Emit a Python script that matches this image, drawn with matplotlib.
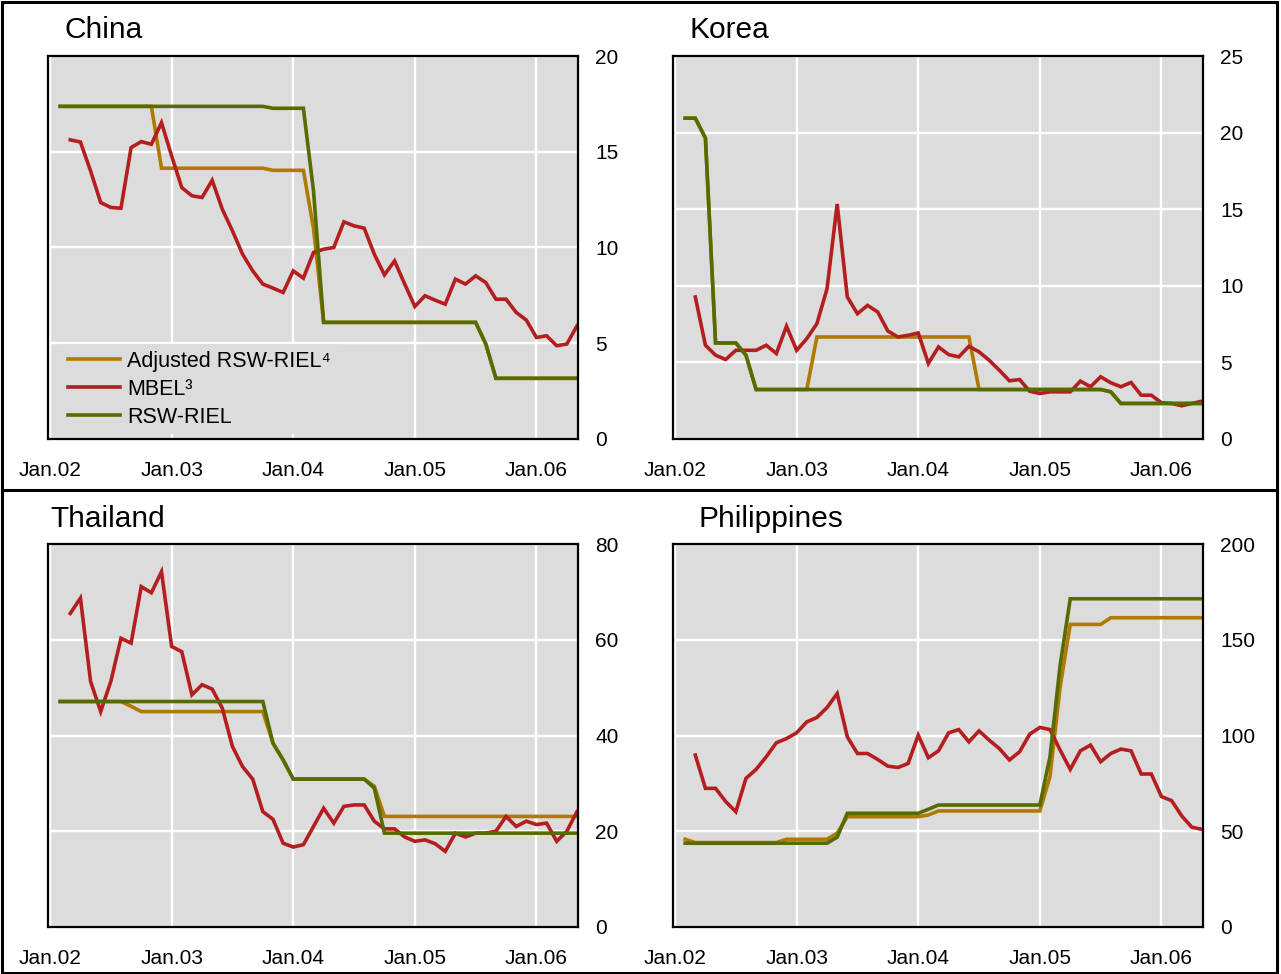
import numpy as np
import matplotlib
matplotlib.use("Agg")
import matplotlib.pyplot as plt
from matplotlib.patches import Rectangle
from matplotlib.lines import Line2D

plt.rcParams['font.family'] = ['Liberation Sans', 'DejaVu Sans']

# ---------------------------------------------------------------------------
# Data: monthly observations, month index 0 = Jan 2002
# Exchange-rate based series (RSW-RIEL, adjusted) start in Feb 2002,
# MBEL starts in Mar 2002.
# ---------------------------------------------------------------------------
rsw_start = 1
mbel_start = 2

tick_months = [0, 12, 24, 36, 48]
tick_labels = ["Jan.02", "Jan.03", "Jan.04", "Jan.05", "Jan.06"]

series_labels = ["Adjusted RSW-RIEL\u2074", "MBEL\u00b3", "RSW-RIEL"]

china_adj = [17.37, 17.37, 17.37, 17.37, 17.37, 17.37, 17.37, 17.37, 17.37, 17.37,
             14.14, 14.14, 14.14, 14.14, 14.14, 14.14, 14.14, 14.14, 14.14, 14.14, 14.14,
             14.03, 14.03, 14.03, 14.03, 11.0,
             6.09, 6.09, 6.09, 6.09, 6.09, 6.09, 6.09, 6.09, 6.09, 6.09, 6.09, 6.09,
             6.09, 6.09, 6.09, 6.09, 4.96,
             3.17, 3.17, 3.17, 3.17, 3.17, 3.17, 3.17, 3.17, 3.17]
china_mbel = [15.62, 15.51, 14.0, 12.35, 12.09, 12.05, 15.22, 15.53, 15.39, 16.52,
              14.78, 13.13, 12.70, 12.61, 13.51, 12.0, 10.87, 9.65, 8.78, 8.09,
              7.88, 7.65, 8.78, 8.40, 9.74, 9.91, 10.0, 11.34, 11.13, 11.01,
              9.65, 8.57, 9.30, 8.09, 6.92, 7.48, 7.25, 7.04, 8.35, 8.09,
              8.52, 8.17, 7.30, 7.30, 6.61, 6.21, 5.30, 5.39, 4.87, 4.96, 5.91]
china_rsw = [17.37, 17.37, 17.37, 17.37, 17.37, 17.37, 17.37, 17.37, 17.37, 17.37,
             17.37, 17.37, 17.37, 17.37, 17.37, 17.37, 17.37, 17.37, 17.37, 17.37, 17.37,
             17.27, 17.27, 17.27, 17.27, 12.96,
             6.09, 6.09, 6.09, 6.09, 6.09, 6.09, 6.09, 6.09, 6.09, 6.09, 6.09, 6.09,
             6.09, 6.09, 6.09, 6.09, 4.96,
             3.17, 3.17, 3.17, 3.17, 3.17, 3.17, 3.17, 3.17, 3.17]

korea_adj = [20.94, 20.94, 19.64, 6.27, 6.27, 6.27, 5.47, 3.23, 3.23, 3.23, 3.23, 3.23, 3.23,
             6.66, 6.66, 6.66, 6.66, 6.66, 6.66, 6.66, 6.66, 6.66, 6.66, 6.66, 6.66,
             6.66, 6.66, 6.66, 6.66,
             3.23, 3.23, 3.23, 3.23, 3.23, 3.23, 3.23, 3.23, 3.23, 3.23, 3.23, 3.23, 3.23,
             3.08, 2.32, 2.32, 2.32, 2.32, 2.32, 2.32, 2.32, 2.32, 2.32]
korea_mbel = [9.27, 6.12, 5.47, 5.19, 5.79, 5.79, 5.79, 6.12, 5.58, 7.36,
              5.79, 6.55, 7.53, 9.81, 15.34, 9.27, 8.18, 8.72, 8.29, 7.05,
              6.66, 6.77, 6.92, 4.93, 6.01, 5.51, 5.36, 6.05, 5.69, 5.14,
              4.49, 3.80, 3.88, 3.12, 2.97, 3.08, 3.08, 3.08, 3.78, 3.41,
              4.06, 3.67, 3.41, 3.69, 2.86, 2.86, 2.37, 2.32, 2.17, 2.32, 2.47]
korea_rsw = [20.94, 20.94, 19.64, 6.27, 6.27, 6.27, 5.47,
             3.23, 3.23, 3.23, 3.23, 3.23, 3.23, 3.23, 3.23, 3.23, 3.23, 3.23, 3.23,
             3.23, 3.23, 3.23, 3.23, 3.23, 3.23, 3.23, 3.23, 3.23, 3.23, 3.23, 3.23,
             3.23, 3.23, 3.23, 3.23, 3.23, 3.23, 3.23, 3.23, 3.23, 3.23, 3.23,
             3.08, 2.32, 2.32, 2.32, 2.32, 2.32, 2.32, 2.32, 2.32, 2.32]

thai_adj = [47.1, 47.1, 47.1, 47.1, 47.1, 47.1, 47.1, 46.1,
            45.0, 45.0, 45.0, 45.0, 45.0, 45.0, 45.0, 45.0, 45.0, 45.0, 45.0, 45.0, 45.0,
            38.4, 34.9, 30.9, 30.9, 30.9, 30.9, 30.9, 30.9, 30.9, 30.9, 29.4,
            23.1, 23.1, 23.1, 23.1, 23.1, 23.1, 23.1, 23.1, 23.1, 23.1,
            23.1, 23.1, 23.1, 23.1, 23.1, 23.1, 23.1, 23.1, 23.1, 23.1]
thai_mbel = [65.5, 68.7, 51.3, 45.0, 51.3, 60.3, 59.3, 71.1, 69.8, 74.2,
             58.6, 57.5, 48.5, 50.6, 49.7, 45.7, 37.7, 33.5, 30.9, 24.1,
             22.5, 17.5, 16.7, 17.2, 21.0, 24.8, 21.7, 25.2, 25.5, 25.5,
             22.1, 20.5, 20.5, 18.8, 17.9, 18.2, 17.4, 15.8, 19.6, 18.8,
             19.6, 19.6, 20.0, 23.1, 21.0, 22.1, 21.4, 21.7, 17.9, 20.0, 24.1]
thai_rsw = [47.1, 47.1, 47.1, 47.1, 47.1, 47.1, 47.1, 47.1, 47.1, 47.1, 47.1,
            47.1, 47.1, 47.1, 47.1, 47.1, 47.1, 47.1, 47.1, 47.1, 47.1,
            38.4, 34.9, 30.9, 30.9, 30.9, 30.9, 30.9, 30.9, 30.9, 30.9, 29.0,
            19.6, 19.6, 19.6, 19.6, 19.6, 19.6, 19.6, 19.6, 19.6, 19.6,
            19.6, 19.6, 19.6, 19.6, 19.6, 19.6, 19.6, 19.6, 19.6, 19.6]

phil_adj = [45.8, 44.1, 44.1, 44.1, 44.1, 44.1, 44.1, 44.1, 44.1, 44.1,
            45.8, 45.8, 45.8, 45.8, 45.8, 49.0,
            57.6, 57.6, 57.6, 57.6, 57.6, 57.6, 57.6, 57.6, 58.5,
            60.6, 60.6, 60.6, 60.6, 60.6, 60.6, 60.6, 60.6, 60.6, 60.6, 60.6,
            78.5, 125.3, 158.0, 158.0, 158.0, 158.0,
            161.5, 161.5, 161.5, 161.5, 161.5, 161.5, 161.5, 161.5, 161.5, 161.5]
phil_mbel = [89.8, 72.4, 72.4, 65.5, 60.2, 77.6, 82.3, 88.9, 96.2, 98.4,
             101.4, 107.1, 109.4, 114.6, 121.9, 99.3, 90.6, 90.6, 87.5, 84.0,
             83.3, 85.4, 100.2, 88.4, 92.0, 101.4, 103.1, 96.7, 102.4, 97.6,
             93.2, 87.2, 91.5, 100.7, 104.2, 103.1, 92.4, 82.3, 92.0, 95.0,
             86.3, 90.6, 92.9, 92.0, 79.9, 79.9, 68.1, 66.0, 58.0, 52.1, 51.0]
phil_rsw = [43.75, 43.75, 43.75, 43.75, 43.75, 43.75, 43.75, 43.75, 43.75, 43.75,
            43.75, 43.75, 43.75, 43.75, 43.75, 46.9,
            59.4, 59.4, 59.4, 59.4, 59.4, 59.4, 59.4, 59.4, 61.5,
            63.7, 63.7, 63.7, 63.7, 63.7, 63.7, 63.7, 63.7, 63.7, 63.7, 63.7,
            88.9, 136.6, 171.4, 171.4, 171.4, 171.4, 171.4, 171.4, 171.4, 171.4,
            171.4, 171.4, 171.4, 171.4, 171.4, 171.4]

china_ticks = [0, 5, 10, 15, 20]
korea_ticks = [0, 5, 10, 15, 20, 25]
thai_ticks = [0, 20, 40, 60, 80]
phil_ticks = [0, 50, 100, 150, 200]

# ---------------------------------------------------------------------------
# Styling
# ---------------------------------------------------------------------------
C_ADJ = "#B07A00"
C_MBEL = "#B41E1E"
C_RSW = "#566B00"
BG = "#DCDCDC"
LW = 2.6
TICK_FS = 15

W, H = 1281, 974
fig = plt.figure(figsize=(W / 100, H / 100), dpi=100)


def add_px_axes(left, top, right, bottom):
    return fig.add_axes([left / W, 1 - bottom / H, (right - left) / W, (bottom - top) / H])


def draw_panel(ax, adj, mbel, rsw, yticks):
    x_adj = np.arange(rsw_start, rsw_start + len(adj))
    x_mbel = np.arange(mbel_start, mbel_start + len(mbel))
    x_rsw = np.arange(rsw_start, rsw_start + len(rsw))
    ax.plot(x_adj, adj, color=C_ADJ, lw=LW, solid_joinstyle="miter")
    ax.plot(x_mbel, mbel, color=C_MBEL, lw=LW, solid_joinstyle="miter")
    ax.plot(x_rsw, rsw, color=C_RSW, lw=LW, solid_joinstyle="miter")
    ax.set_facecolor(BG)
    ax.set_xlim(-0.2, 52.1)
    ax.set_ylim(yticks[0], yticks[-1])
    ax.set_yticks(yticks)
    ax.set_yticklabels([str(t) for t in yticks])
    ax.set_xticks(tick_months)
    ax.set_xticklabels(tick_labels)
    ax.yaxis.tick_right()
    ax.tick_params(axis="y", length=0, pad=12.5, labelsize=TICK_FS)
    ax.tick_params(axis="x", length=0, pad=15.5, labelsize=TICK_FS)
    ax.grid(True, color="white", linewidth=1.7)
    ax.set_axisbelow(True)
    for sp in ax.spines.values():
        sp.set_linewidth(1.6)
        sp.set_color("black")


ax_china = add_px_axes(48, 56, 578, 439)
ax_korea = add_px_axes(673, 56, 1203, 439)
ax_thai = add_px_axes(48, 544, 578, 927)
ax_phil = add_px_axes(673, 544, 1203, 927)

draw_panel(ax_china, china_adj, china_mbel, china_rsw, china_ticks)
draw_panel(ax_korea, korea_adj, korea_mbel, korea_rsw, korea_ticks)
draw_panel(ax_thai, thai_adj, thai_mbel, thai_rsw, thai_ticks)
draw_panel(ax_phil, phil_adj, phil_mbel, phil_rsw, phil_ticks)

# Panel titles
titles = [("China", 65, 38), ("Korea", 689, 38), ("Thailand", 50, 527), ("Philippines", 698, 527)]
for name, x, y in titles:
    fig.text(x / W, 1 - y / H, name, fontsize=21.5, ha="left", va="baseline")

# Legend in the China panel
handles = [Line2D([], [], color=c, lw=LW) for c in (C_ADJ, C_MBEL, C_RSW)]
leg = ax_china.legend(handles, series_labels, loc="lower left",
                      bbox_to_anchor=(0.026, 0.012), borderaxespad=0,
                      fontsize=15.5, frameon=True, facecolor=BG, edgecolor=BG,
                      framealpha=1, fancybox=False, handlelength=2.4,
                      handletextpad=0.35, labelspacing=0.33, borderpad=0.3)
leg.get_frame().set_linewidth(0)

# Outer frame and separator between the two rows
frame_lw = 2.2
fig.add_artist(Rectangle((1.5 / W, 1.5 / H), (1276.5 - 1.5) / W, (972.5 - 1.5) / H,
                         transform=fig.transFigure, fill=False, edgecolor="black",
                         linewidth=frame_lw))
fig.add_artist(Line2D([1.5 / W, 1276.5 / W], [1 - 490 / H, 1 - 490 / H],
                      transform=fig.transFigure, color="black", linewidth=frame_lw))

fig.savefig("out.png", dpi=100, facecolor="white")
